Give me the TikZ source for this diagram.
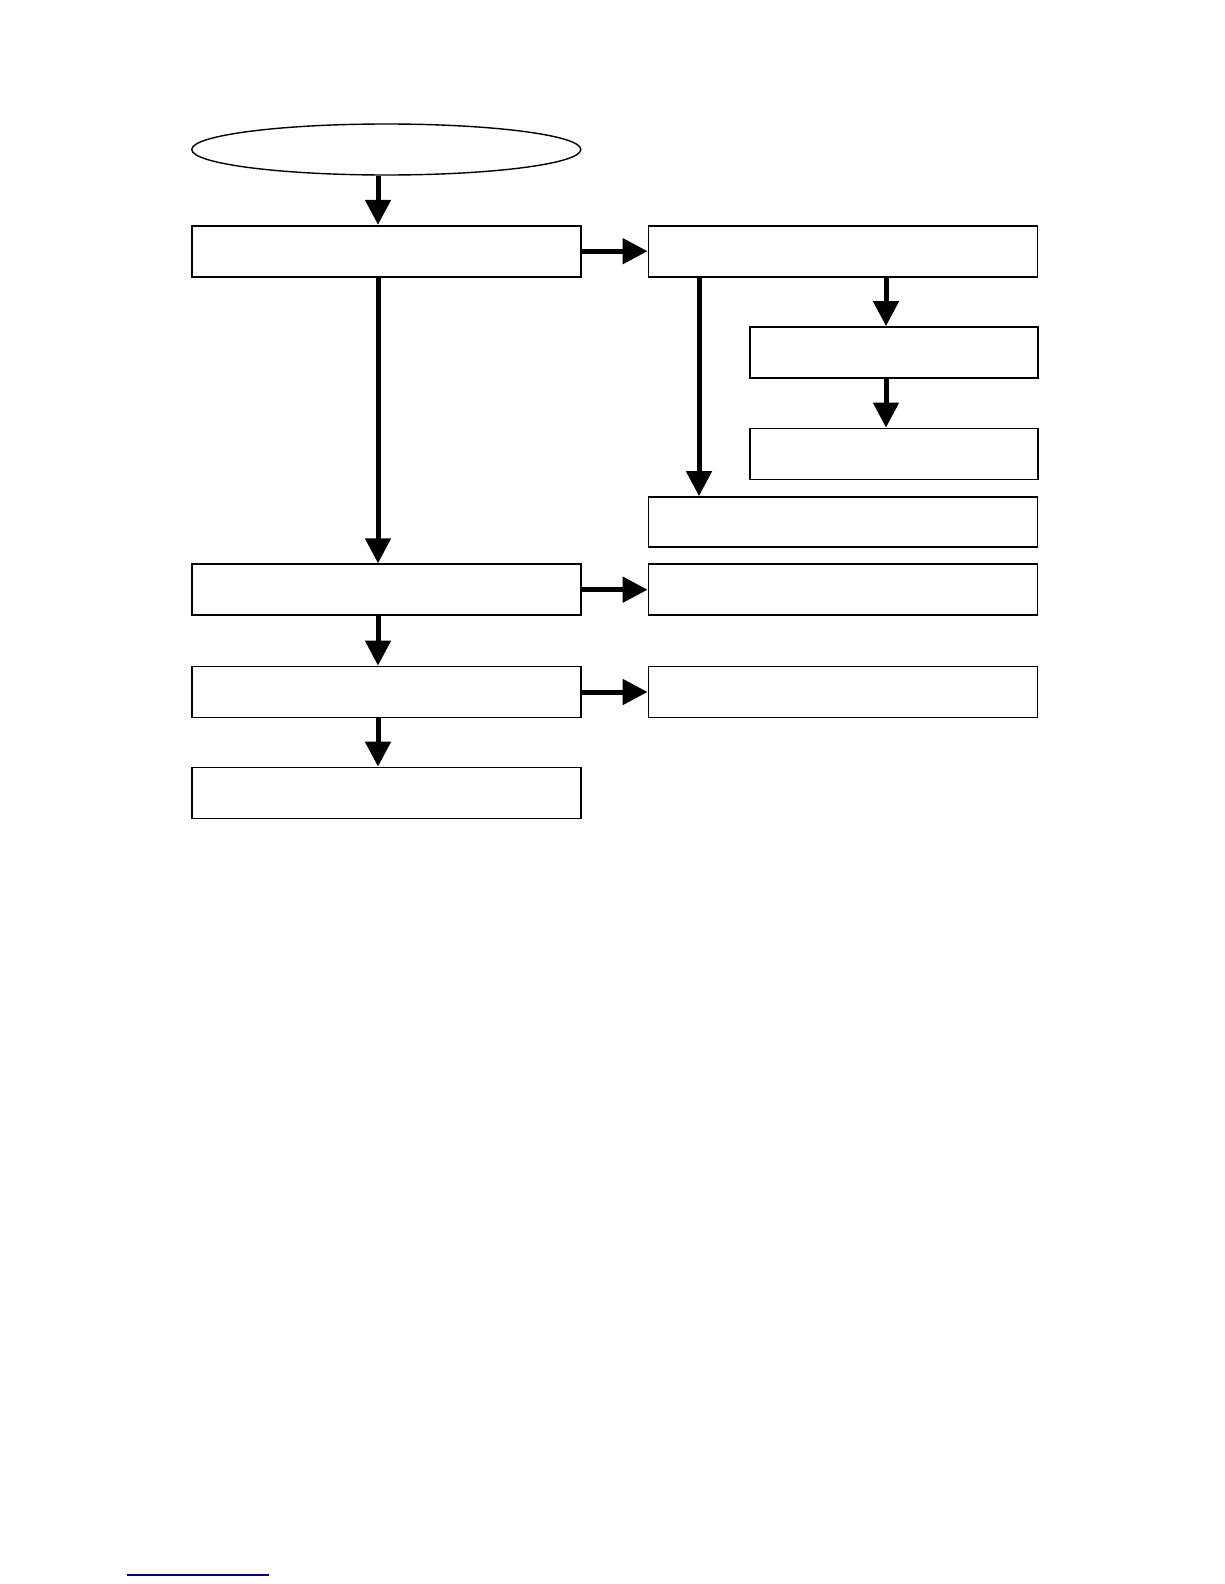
\documentclass[tikz,border=0pt]{standalone}
\usetikzlibrary{arrows.meta,shapes.geometric}
\begin{document}
\begin{tikzpicture}[x=1pt,y=-1pt,
  boxw/.style={draw=black,line width=1.8pt,rectangle,minimum height=51pt,inner sep=0pt,fill=white},
  wide/.style={boxw,minimum width=389pt},
  narrow/.style={boxw,minimum width=288pt},
  flow/.style={line width=5pt,-{Triangle[width=25pt,length=25pt]}}]
\useasboundingbox (0,0) rectangle (1224,1584);
\fill[white] (0,0) rectangle (1224,1584);
\node[draw=black,line width=1.4pt,ellipse,minimum width=389pt,minimum height=51pt,inner sep=0pt] (e) at (386.3,149.5) {};
\node[wide] (b1) at (386.3,251.2) {};
\node[wide] (r1) at (843,251.2) {};
\node[narrow] (r2) at (894,352.5) {};
\node[narrow] (r3) at (894,454) {};
\node[wide,minimum height=50pt] (r4) at (843,522) {};
\node[wide] (b2) at (386.3,589.7) {};
\node[wide] (r5) at (843,589.7) {};
\node[wide] (b3) at (386.3,692) {};
\node[wide] (r6) at (843,692) {};
\node[wide] (b4) at (386.3,793) {};
\coordinate (lc) at (378,0);
\coordinate (mc) at (699,0);
\coordinate (rc) at (886,0);
\draw[flow] (e.south -| lc) -- (b1.north -| lc);
\draw[flow] (b1.south -| lc) -- (b2.north -| lc);
\draw[flow] (b2.south -| lc) -- (b3.north -| lc);
\draw[flow] (b3.south -| lc) -- (b4.north -| lc);
\draw[flow] (b1.east) -- (r1.west);
\draw[flow] (b2.east) -- (r5.west);
\draw[flow] (b3.east) -- (r6.west);
\draw[flow] (r1.south -| rc) -- (r2.north -| rc);
\draw[flow] (r2.south -| rc) -- (r3.north -| rc);
\draw[flow] (r1.south -| mc) -- (r4.north -| mc);
\coordinate (u1) at (127,1575);
\coordinate (u2) at (269,1575);
\draw[line width=1.2pt,color={rgb,255:red,0;green,0;blue,128}] (u1) -- (u2);
\end{tikzpicture}
\end{document}
